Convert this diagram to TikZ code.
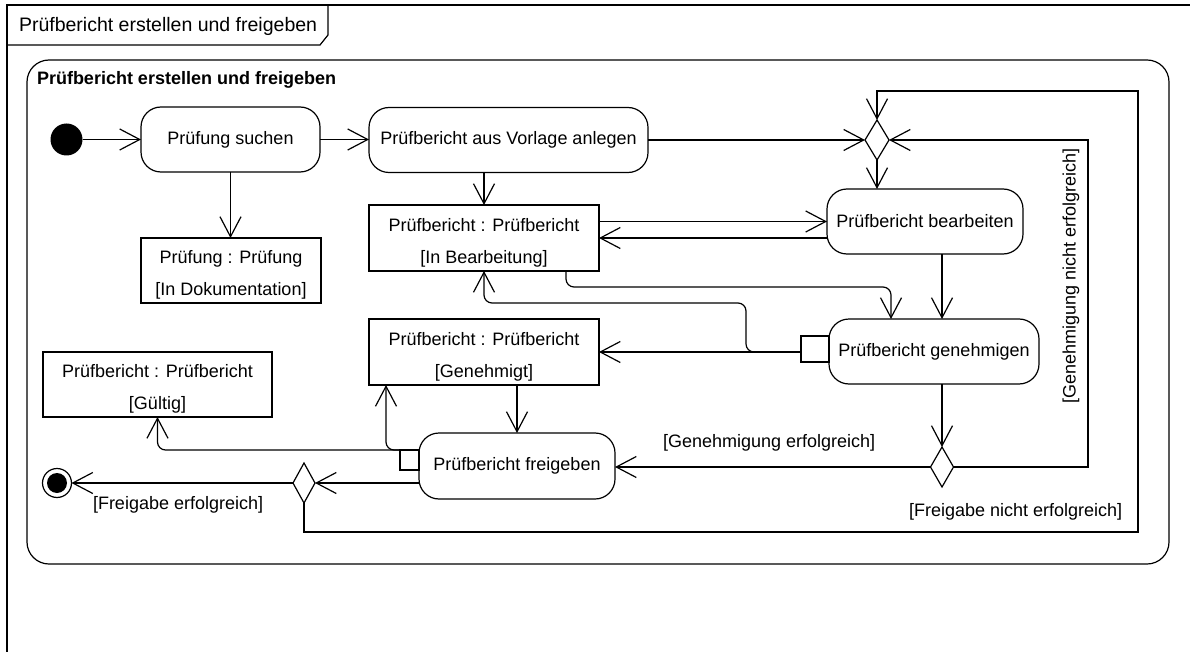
\documentclass[tikz,border=0pt]{standalone}
\usepackage{fontspec}
\setmainfont{Liberation Sans}
\usetikzlibrary{arrows.meta,shapes.geometric}
% two-line object label: name and state, first line given extra head room
\newcommand\objlines[2]{\rule{0pt}{22pt}#1\\{}#2}
\begin{document}
\begin{tikzpicture}[x=1pt,y=-1pt,line width=1.2pt,
  every node/.style={inner sep=0pt,outer sep=0pt},
  txt/.style={font=\fontsize{18}{22}\selectfont},
  action/.style={draw,rounded corners=20pt,txt,minimum height=65pt},
  obj/.style={draw,align=center,font=\fontsize{18}{32}\selectfont,minimum height=65pt},
  pin/.style={draw,fill=white},
  branch/.style={draw,diamond,minimum width=23pt,minimum height=40pt},
  flow/.style={-{Straight Barb[length=20pt,width=21pt]}},
  softturn/.style={rounded corners=8pt}]
\useasboundingbox (0,0) rectangle (1190,652);

% diagram frame with its name tab
\draw (7,652) -- (7,5) -- (1190,5);
\draw (7,45) -- (320,45) -- (328,35) -- (328,5);
\node[anchor=west,font=\fontsize{19.5}{23}\selectfont] (tab) at (19,26) {Prüfbericht erstellen und freigeben};

% activity boundary
\draw[rounded corners=22pt] (27,60) rectangle (1169,564);
\node[anchor=west,font=\bfseries\fontsize{18}{22}\selectfont] (title) at (37,80) {Prüfbericht erstellen und freigeben};

% nodes
\node[circle,fill,minimum size=32pt] (init) at (66.5,139.5) {};
\node[action,minimum width=179pt] (suchen) at (230.5,139.5) {Prüfung suchen};
\node[action,minimum width=279pt] (vorlage) at (508.5,140) {Prüfbericht aus Vorlage anlegen};
\node[branch,minimum width=24pt] (merge) at (877,140) {};
\node[action,minimum width=196pt] (bearb) at (925,221.5) {Prüfbericht bearbeiten};
\node[obj,minimum width=180pt] (pruef) at (231,270.5) {\objlines{Prüfung : Prüfung}{[In Dokumentation]}};
\node[obj,minimum width=230pt,minimum height=66pt] (inbearb) at (484,238) {\objlines{Prüfbericht : Prüfbericht}{[In Bearbeitung]}};
\node[action,minimum width=210pt] (genehm) at (934,351.5) {Prüfbericht genehmigen};
\node[pin,minimum width=28pt,minimum height=26pt] (pin1) at (815,349) {};
\node[obj,minimum width=230pt,minimum height=66pt] (genehmigt) at (484,352) {\objlines{Prüfbericht : Prüfbericht}{[Genehmigt]}};
\node[obj,minimum width=229pt] (gueltig) at (157.5,384.5) {\objlines{Prüfbericht : Prüfbericht}{[Gültig]}};
\node[action,minimum width=196pt,minimum height=66pt] (freig) at (517,466) {Prüfbericht freigeben};
\node[pin,minimum width=19pt,minimum height=20pt] (pin2) at (409.5,460) {};
\node[branch] (d1) at (942,467) {};
\node[branch,minimum width=22pt] (d2) at (304,483) {};
\node[circle,draw,minimum size=29pt] (final) at (57,483) {};
\fill (final.center) circle (10pt);

% bend points of the routed flows
\coordinate (k1) at (891,287);
\coordinate (k2) at (746,303);
\coordinate (k3) at (1088,140);
\coordinate (k4) at (1138,532);
\coordinate (k5) at (1138,91);

% flows
\draw[flow] (init.east) -- (suchen.west);
\draw[flow] (suchen.east) -- (suchen.east -| vorlage.west);
\draw[flow] (suchen.south) -- (suchen.south |- pruef.north);
\draw[flow] (inbearb.north |- vorlage.south) -- (inbearb.north);
\draw[flow] (vorlage.east) -- (merge.west);
\draw[flow] (merge.south) -- (merge.south |- bearb.north);
\draw[flow] (inbearb.east |- bearb.west) -- (bearb.west);
\draw[flow] (bearb.west |- inbearb.east) -- (inbearb.east);
\draw[flow] (d1 |- bearb.south) -- (d1 |- genehm.north);
\draw[flow,softturn] ([xshift=82pt]inbearb.south) |- (k1) -- (k1 |- genehm.north);
\draw[flow] (pin1.west |- genehmigt.east) -- (genehmigt.east);
\draw[flow,softturn] (pin1.west |- genehmigt.east) -| (k2) -| (inbearb.south);
\draw[flow] (freig.north |- genehmigt.south) -- (freig.north);
\draw[flow,softturn] (pin2.north west) -| (gueltig.south);
\draw[flow,softturn] (pin2.north west) -| ([xshift=17pt]genehmigt.south west);
\draw[flow] (freig.west |- d2.east) -- (d2.east);
\draw[flow] (d2.west) -- (final.east);
\draw[flow] (genehm.south -| d1) -- (d1.north);
\draw[flow] (d1.west) -- (d1.west -| freig.east);
\draw[flow] (d1.east) -| (k3) -- (merge.east);
\draw[flow] (d2.south) |- (k4) -- (k5) -| (merge.north);

% guards
\node[txt,anchor=west] (g1) at (663,443) {[Genehmigung erfolgreich]};
\node[txt,anchor=west] (g2) at (909,512) {[Freigabe nicht erfolgreich]};
\node[txt,anchor=west] (g3) at (93,505) {[Freigabe erfolgreich]};
\node[txt,rotate=90] (g4) at (1071,276) {[Genehmigung nicht erfolgreich]};
\end{tikzpicture}
\end{document}
